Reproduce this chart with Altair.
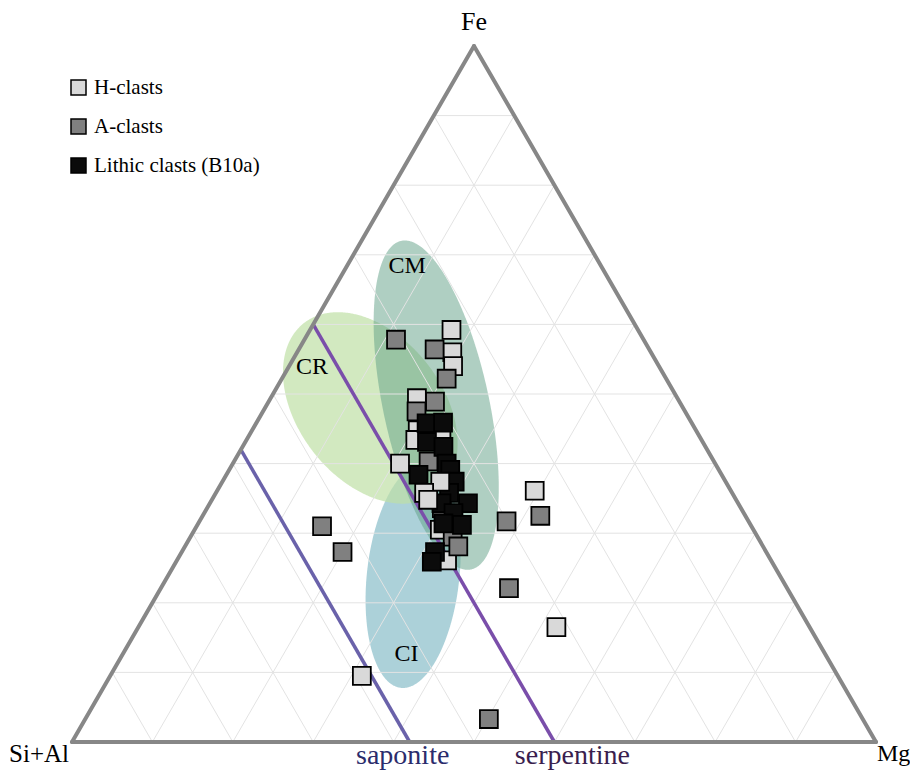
import altair as alt
import numpy as np
import pandas as pd

SQ = np.sqrt(3) / 2

# ---------------- data: ternary compositions in percent (Si+Al = 100 - Fe - Mg) ----
h_fe = [59.2, 56.0, 54.0, 49.4, 44.8, 43.4, 43.7, 30.5, 26.1, 36.1, 16.5, 9.5]
h_mg = [17.6, 19.3, 20.4, 18.2, 20.6, 21.0, 24.1, 30.5, 33.6, 39.5, 52.0, 31.3]

a_fe = [57.8, 56.4, 52.2, 48.9, 47.5, 40.3, 33.6, 31.7, 32.5, 31.0, 27.3, 22.1, 3.3, 29.5]
a_mg = [11.4, 16.9, 20.5, 20.7, 19.1, 24.2, 29.2, 38.2, 42.0, 15.6, 20.0, 43.3, 50.2, 32.6]

l_fe = [45.8, 45.9, 43.1, 42.4, 40.0, 39.1, 38.4, 37.4, 35.8, 34.3, 34.3, 32.9, 31.4, 31.2, 27.3, 25.9]
l_mg = [21.2, 23.2, 22.6, 25.0, 26.6, 27.5, 23.9, 28.9, 29.0, 28.8, 32.1, 31.0, 30.5, 32.9, 31.5, 31.8]

# points drawn on top of the cluster
h_top_fe = [40.0, 37.4, 35.8, 34.8]
h_top_mg = [20.8, 27.1, 25.9, 26.9]
a_top_fe = [28.1]
a_top_mg = [34.0]

groups = ["H-clasts", "A-clasts", "Lithic clasts (B10a)"]
group_colors = ["#d9d9d9", "#808080", "#0b0b0b"]

# compositional fields (ellipses): centre (Fe, Mg %), semi-axes (fraction of side), angle (deg)
ell_names = ["CI", "CR", "CM"]
ell_fe = [23.85, 48.0, 48.4]
ell_mg = [30.5, 13.1, 21.1]
ell_a = [0.140, 0.134, 0.209]
ell_b = [0.0575, 0.0896, 0.066]
ell_ang = [83.8, -52.0, 102.0]
ell_colors = ["#7fb8c4", "#bfe0a5", "#5f9f85"]
ell_opac = [0.65, 0.7, 0.5]

# field labels (Fe, Mg %)
fld_lab = ["CM", "CR", "CI"]
fld_fe = [68.4, 53.9, 12.6]
fld_mg = [7.5, 2.9, 35.3]

# reference mineral lines: constant Si+Al (%)
min_names = ["saponite", "serpentine"]
min_si = [58.0, 40.0]
min_line_colors = ["#6a62aa", "#7a4eaa"]
min_text_colors = ["#2b2c6c", "#3a1e4e"]

grid_steps = [10, 20, 30, 40, 50, 60, 70, 80, 90]


def tx(fe, mg):
    fe = np.asarray(fe, dtype=float) / 100
    mg = np.asarray(mg, dtype=float) / 100
    return mg + fe / 2, fe * SQ


# ---------------- points ----------------
rows = []
order = 0
for fes, mgs, g in [(h_fe, h_mg, groups[0]), (a_fe, a_mg, groups[1]),
                    (l_fe, l_mg, groups[2]), (h_top_fe, h_top_mg, groups[0]),
                    (a_top_fe, a_top_mg, groups[1])]:
    for f, m in zip(fes, mgs):
        x, y = tx(f, m)
        rows.append({"x": float(x), "y": float(y), "group": g, "ord": order})
        order += 1
pts = pd.DataFrame(rows)

# ---------------- grid ----------------
grid = []
for c in grid_steps:
    x1, y1 = tx(c, 0); x2, y2 = tx(c, 100 - c)
    grid.append({"x": x1, "y": y1, "x2": x2, "y2": y2})
    x1, y1 = tx(0, c); x2, y2 = tx(100 - c, c)
    grid.append({"x": x1, "y": y1, "x2": x2, "y2": y2})
    x1, y1 = tx(0, 100 - c); x2, y2 = tx(100 - c, 0)
    grid.append({"x": x1, "y": y1, "x2": x2, "y2": y2})
grid = pd.DataFrame(grid).astype(float)

# triangle frame
frame = []
for (f1, m1), (f2, m2) in [((0, 0), (100, 0)), ((100, 0), (0, 100)), ((0, 100), (0, 0))]:
    x1, y1 = tx(f1, m1); x2, y2 = tx(f2, m2)
    frame.append({"x": float(x1), "y": float(y1), "x2": float(x2), "y2": float(y2)})
frame = pd.DataFrame(frame)

# mineral lines
mins = []
for n, si in zip(min_names, min_si):
    x1, y1 = tx(100 - si, 0); x2, y2 = tx(0, 100 - si)
    mins.append({"name": n, "x": float(x1), "y": float(y1), "x2": float(x2), "y2": float(y2)})
mins = pd.DataFrame(mins)

X = alt.X("x:Q", scale=alt.Scale(domain=[0, 1], nice=False, zero=False), axis=None)
Y = alt.Y("y:Q", scale=alt.Scale(domain=[0, float(SQ)], nice=False, zero=False), axis=None)


def ellipse_band(fe, mg, a, b, ang, n=301):
    cx, cy = tx(fe, mg)
    th = np.radians(ang)
    c, s = np.cos(th), np.sin(th)
    w = np.sqrt((a * c) ** 2 + (b * s) ** 2)
    t = np.linspace(0, np.pi, n)
    xs = cx - w * np.cos(t)
    dx = xs - cx
    A = s * s / a ** 2 + c * c / b ** 2
    B = 2 * dx * c * s * (1 / a ** 2 - 1 / b ** 2)
    C = dx * dx * (c * c / a ** 2 + s * s / b ** 2) - 1
    disc = np.clip(B * B - 4 * A * C, 0, None)
    lo = cy + (-B - np.sqrt(disc)) / (2 * A)
    hi = cy + (-B + np.sqrt(disc)) / (2 * A)
    return pd.DataFrame({"x": xs, "y": lo, "y2": hi})


layers = []
for i in range(len(ell_names)):
    d = ellipse_band(ell_fe[i], ell_mg[i], ell_a[i], ell_b[i], ell_ang[i])
    layers.append(
        alt.Chart(d).mark_area(color=ell_colors[i], opacity=ell_opac[i], interpolate="linear")
        .encode(x=X, y=Y, y2="y2:Q")
    )

grid_layer = alt.Chart(grid).mark_rule(color="#e3e3e3", strokeWidth=1).encode(
    x=X, y=Y, x2="x2:Q", y2="y2:Q")

min_layers = []
for i in range(len(min_names)):
    min_layers.append(
        alt.Chart(mins.iloc[[i]]).mark_rule(color=min_line_colors[i], strokeWidth=3.5).encode(
            x=X, y=Y, x2="x2:Q", y2="y2:Q"))

frame_layer = alt.Chart(frame).mark_rule(color="#878787", strokeWidth=4, strokeCap="round").encode(
    x=X, y=Y, x2="x2:Q", y2="y2:Q")

pt_layer = alt.Chart(pts).mark_point(shape="square", filled=True, size=320, stroke="black",
                                     strokeWidth=1.8, opacity=1).encode(
    x=X, y=Y,
    fill=alt.Fill("group:N",
                  scale=alt.Scale(domain=groups, range=group_colors),
                  legend=alt.Legend(orient="none", legendX=-4, legendY=31, title=None,
                                    symbolType="square", symbolSize=225,
                                    symbolStrokeColor="black", symbolStrokeWidth=1.5,
                                    symbolOpacity=1, labelLimit=400,
                                    labelFont="Liberation Serif", labelFontSize=21,
                                    labelColor="black", labelOffset=5, rowPadding=17)),
    order=alt.Order("ord:Q"),
)

FONT = "Liberation Serif"


def label(text, fe, mg, dx, dy, size, color="black", align="center"):
    x, y = tx(fe, mg)
    d = pd.DataFrame({"x": [float(x)], "y": [float(y)], "t": [text]})
    return alt.Chart(d).mark_text(font=FONT, fontSize=size, color=color, dx=dx, dy=dy,
                                  align=align, baseline="middle").encode(x=X, y=Y, text="t:N")


txt = [
    label("Fe", 100, 0, 0, -24, 26),
    label("Si+Al", 0, 0, -3, 12, 25, align="right"),
    label("Mg", 0, 100, 1, 12, 24, align="left"),
]
for i in range(len(min_names)):
    si = min_si[i]
    dx = -7 if i == 0 else 18
    txt.append(label(min_names[i], 0, 100 - si, dx, 14, 28, min_text_colors[i]))
for i in range(len(fld_lab)):
    txt.append(label(fld_lab[i], fld_fe[i], fld_mg[i], 0, 0, 24))

chart = alt.layer(*layers, grid_layer, *min_layers, frame_layer, pt_layer, *txt).properties(
    width=804, height=696,
    autosize=alt.AutoSizeParams(type="none"),
    padding={"left": 64, "top": 38, "right": 34, "bottom": 30},
).configure_view(stroke=None)

chart.save("out.html", embed_options={"renderer": "svg", "actions": False})
